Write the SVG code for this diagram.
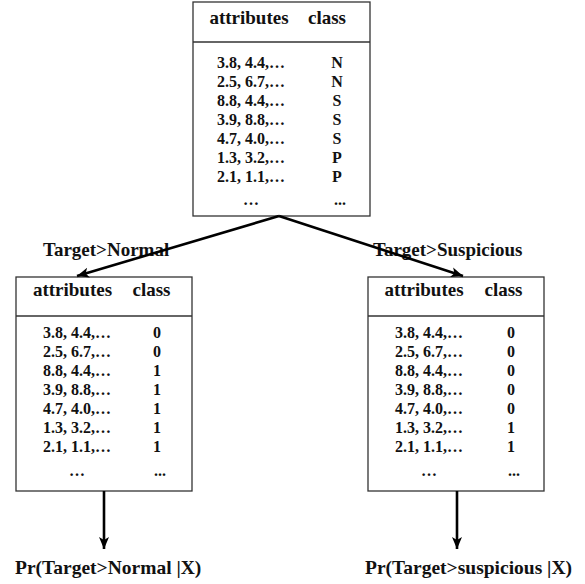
<svg xmlns="http://www.w3.org/2000/svg" width="585" height="584" viewBox="0 0 585 584">
<style>
text{font-family:"Liberation Serif","Times New Roman",serif;font-weight:bold;fill:#111}
.h{font-size:19px;text-anchor:middle}
.r{font-size:16px;text-anchor:middle}
.l{font-size:19px}
.p{font-size:19.5px}
.box{fill:#fff;stroke:#333;stroke-width:1.3}
.div{stroke:#333;stroke-width:1.3}
.con{stroke:#000;stroke-width:2.6;fill:none}
</style>
<defs>
<marker id="ah" markerUnits="userSpaceOnUse" markerWidth="14" markerHeight="12" refX="12" refY="6" orient="auto">
<path d="M0,1 L12,6 L0,11 L3,6 Z" fill="#000"/>
</marker>
</defs>
<rect width="585" height="584" fill="#fff"/>
<g id="node-root">
<rect class="box" x="193" y="2" width="177" height="214"/>
<line class="div" x1="193" y1="42" x2="370" y2="42"/>
<text class="h" x="249" y="24">attributes</text>
<text class="h" x="327" y="24">class</text>
<text class="r" x="251" y="68">3.8, 4.4,…</text><text class="r" x="337" y="68">N</text>
<text class="r" x="251" y="87">2.5, 6.7,…</text><text class="r" x="337" y="87">N</text>
<text class="r" x="251" y="106">8.8, 4.4,…</text><text class="r" x="337" y="106">S</text>
<text class="r" x="251" y="125">3.9, 8.8,…</text><text class="r" x="337" y="125">S</text>
<text class="r" x="251" y="144">4.7, 4.0,…</text><text class="r" x="337" y="144">S</text>
<text class="r" x="251" y="163">1.3, 3.2,…</text><text class="r" x="337" y="163">P</text>
<text class="r" x="251" y="182">2.1, 1.1,…</text><text class="r" x="337" y="182">P</text>
<text class="r" x="251" y="205">…</text><text class="r" x="340" y="205">...</text>
</g>
<g id="node-normal">
<rect class="box" x="16" y="277" width="176" height="214"/>
<line class="div" x1="16" y1="316" x2="192" y2="316"/>
<text class="h" x="72.5" y="296">attributes</text>
<text class="h" x="151.5" y="296">class</text>
<text class="r" x="77" y="338">3.8, 4.4,…</text><text class="r" x="157" y="338">0</text>
<text class="r" x="77" y="357">2.5, 6.7,…</text><text class="r" x="157" y="357">0</text>
<text class="r" x="77" y="376">8.8, 4.4,…</text><text class="r" x="157" y="376">1</text>
<text class="r" x="77" y="395">3.9, 8.8,…</text><text class="r" x="157" y="395">1</text>
<text class="r" x="77" y="414">4.7, 4.0,…</text><text class="r" x="157" y="414">1</text>
<text class="r" x="77" y="433">1.3, 3.2,…</text><text class="r" x="157" y="433">1</text>
<text class="r" x="77" y="452">2.1, 1.1,…</text><text class="r" x="157" y="452">1</text>
<text class="r" x="77" y="476">…</text><text class="r" x="160" y="476">...</text>
</g>
<g id="node-suspicious">
<rect class="box" x="368" y="277" width="176" height="214"/>
<line class="div" x1="368" y1="316" x2="544" y2="316"/>
<text class="h" x="424" y="296">attributes</text>
<text class="h" x="503.5" y="296">class</text>
<text class="r" x="429" y="338">3.8, 4.4,…</text><text class="r" x="511" y="338">0</text>
<text class="r" x="429" y="357">2.5, 6.7,…</text><text class="r" x="511" y="357">0</text>
<text class="r" x="429" y="376">8.8, 4.4,…</text><text class="r" x="511" y="376">0</text>
<text class="r" x="429" y="395">3.9, 8.8,…</text><text class="r" x="511" y="395">0</text>
<text class="r" x="429" y="414">4.7, 4.0,…</text><text class="r" x="511" y="414">0</text>
<text class="r" x="429" y="433">1.3, 3.2,…</text><text class="r" x="511" y="433">1</text>
<text class="r" x="429" y="452">2.1, 1.1,…</text><text class="r" x="511" y="452">1</text>
<text class="r" x="429" y="476">…</text><text class="r" x="514" y="476">...</text>
</g>
<g id="label-normal"><text class="l" x="43" y="256">Target&gt;Normal</text></g>
<g id="label-suspicious"><text class="l" x="373" y="256">Target&gt;Suspicious</text></g>
<g id="out-normal"><text class="p" x="15" y="574">Pr(Target&gt;Normal |X)</text></g>
<g id="out-suspicious"><text class="p" x="365" y="574">Pr(Target&gt;suspicious |X)</text></g>
<g id="connectors">
<line class="con" x1="279" y1="216" x2="77" y2="276" marker-end="url(#ah)"/>
<line class="con" x1="279" y1="216" x2="463" y2="276" marker-end="url(#ah)"/>
<line class="con" x1="104" y1="491" x2="104" y2="549" marker-end="url(#ah)"/>
<line class="con" x1="457" y1="491" x2="457" y2="549" marker-end="url(#ah)"/>
</g>
</svg>
